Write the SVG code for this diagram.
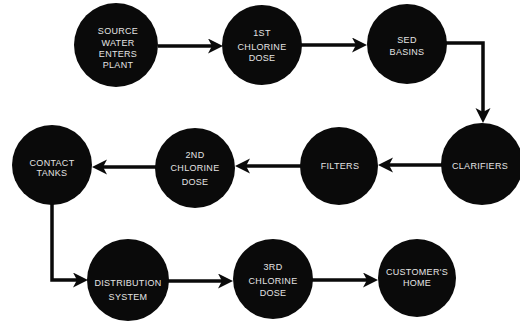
<svg xmlns="http://www.w3.org/2000/svg" width="520" height="322" viewBox="0 0 520 322">
  <style>
    .node circle { fill: #0a0a0a; }
    .node text { fill: #e4e4e4; font-family: "Liberation Sans", Arial, sans-serif; font-size: 9px; text-anchor: middle; letter-spacing: 0.3px; }
    .conn path { fill: none; stroke: #0a0a0a; stroke-width: 3.5; stroke-linejoin: miter; marker-end: url(#arrow); }
  </style>
  <defs>
    <marker id="arrow" markerUnits="userSpaceOnUse" markerWidth="16" markerHeight="16" refX="4" refY="7.5" orient="auto">
      <path d="M0,0 L15,7.5 L0,15 L4,7.5 Z" fill="#0a0a0a"/>
    </marker>
  </defs>

  <rect width="520" height="322" fill="#ffffff"/>

  <!-- flow connectors -->
  <g id="connectors" class="conn">
    <path d="M158,46 H212"/>
    <path d="M301,45 H356"/>
    <path d="M446,43 H483 V112"/>
    <path d="M442,165 H389"/>
    <path d="M301,166 H246"/>
    <path d="M156,167 H103"/>
    <path d="M52,204 V280 H77"/>
    <path d="M168,281 H222"/>
    <path d="M312,280 H367"/>
  </g>

  <!-- process stages -->
  <g id="source-water" class="node">
    <circle cx="116" cy="45" r="42"/>
    <text x="118" y="34">SOURCE</text>
    <text x="118" y="46">WATER</text>
    <text x="118" y="57">ENTERS</text>
    <text x="118" y="68">PLANT</text>
  </g>
  <g id="first-chlorine" class="node">
    <circle cx="262" cy="45" r="40"/>
    <text x="262" y="36">1ST</text>
    <text x="262" y="50">CHLORINE</text>
    <text x="262" y="61">DOSE</text>
  </g>
  <g id="sed-basins" class="node">
    <circle cx="407" cy="44" r="40"/>
    <text x="407" y="43">SED</text>
    <text x="407" y="55">BASINS</text>
  </g>
  <g id="clarifiers" class="node">
    <circle cx="482" cy="164" r="41"/>
    <text x="480" y="169">CLARIFIERS</text>
  </g>
  <g id="filters" class="node">
    <circle cx="339" cy="166" r="39"/>
    <text x="340" y="169">FILTERS</text>
  </g>
  <g id="second-chlorine" class="node">
    <circle cx="195" cy="168" r="40"/>
    <text x="195" y="158">2ND</text>
    <text x="195" y="171">CHLORINE</text>
    <text x="195" y="185">DOSE</text>
  </g>
  <g id="contact-tanks" class="node">
    <circle cx="52" cy="165" r="40"/>
    <text x="52" y="166">CONTACT</text>
    <text x="52" y="176">TANKS</text>
  </g>
  <g id="distribution" class="node">
    <circle cx="128" cy="280" r="41"/>
    <text x="128" y="286">DISTRIBUTION</text>
    <text x="128" y="300">SYSTEM</text>
  </g>
  <g id="third-chlorine" class="node">
    <circle cx="273" cy="279" r="40"/>
    <text x="273" y="270">3RD</text>
    <text x="273" y="284">CHLORINE</text>
    <text x="273" y="296">DOSE</text>
  </g>
  <g id="customers-home" class="node">
    <circle cx="417" cy="278" r="39"/>
    <text x="417" y="275">CUSTOMER'S</text>
    <text x="417" y="286">HOME</text>
  </g>
</svg>
